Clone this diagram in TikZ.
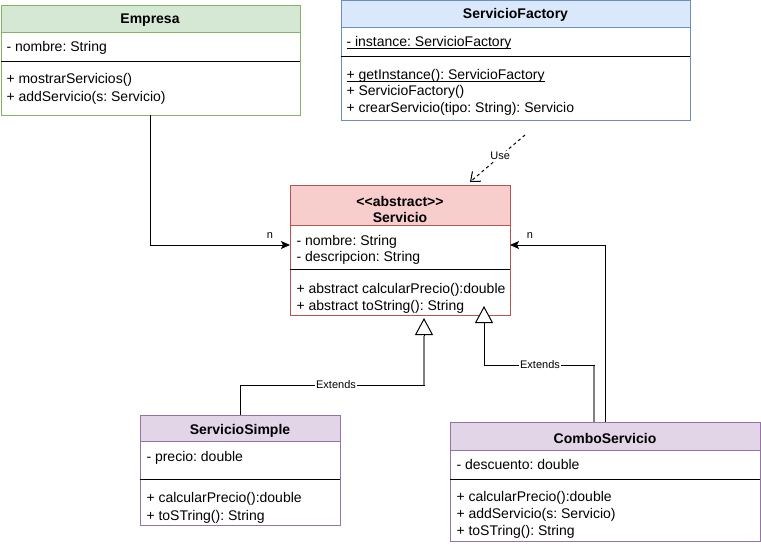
\documentclass[tikz,border=0pt]{standalone}
\usepackage{fontspec}
\setmainfont{Liberation Sans}
\usetikzlibrary{arrows.meta,calc}
\definecolor{grnF}{HTML}{D5E8D4}\definecolor{grnS}{HTML}{82B366}
\definecolor{bluF}{HTML}{DAE8FC}\definecolor{bluS}{HTML}{6C8EBF}
\definecolor{redF}{HTML}{F8CECC}\definecolor{redS}{HTML}{B85450}
\definecolor{purF}{HTML}{E1D5E7}\definecolor{purS}{HTML}{9673A6}
\frenchspacing
\newcommand\myul[1]{\setbox0\hbox{#1}\rlap{\vrule height -1.6pt depth 2.5pt width \wd0}\box0}
\begin{document}
\begin{tikzpicture}[x=1pt,y=-1pt,line width=1pt,
  clsbox/.style={draw, inner sep=0pt, outer sep=0pt, anchor=north west},
  txt/.style={anchor=west, inner sep=0pt, yshift=-1.5pt, font=\fontsize{14}{16}\selectfont},
  ttl/.style={inner sep=0pt, yshift=-1pt, font=\fontsize{14}{16}\selectfont\bfseries, align=center},
  lbl/.style={inner sep=1pt, fill=white, font=\fontsize{11}{13}\selectfont},
  assoc/.style={-{Stealth[length=9pt,width=8pt,inset=2pt]}},
  gen/.style={-{Triangle[open,length=17pt,width=18pt,fill=white]}},
  dep/.style={dash pattern=on 3pt off 3pt,-{Straight Barb[length=8pt,width=13pt]}}]
\useasboundingbox (0,0) rectangle (761,546);

% Empresa
\node[clsbox, draw=grnS, minimum width=299pt, minimum height=110pt] (emp) at (1,5) {};
\draw[fill=grnF, draw=grnS] (emp.north west) rectangle ($(emp.north east)+(0,27)$);
\draw ($(emp.north west)+(0,56)$) -- ($(emp.north east)+(0,56)$);
\node[ttl] (empt) at (150,19) {Empresa};
\node[txt] (empa) at (6,46) {- nombre: String};
\node[txt] (empm1) at (6,78) {+ mostrarServicios()};
\node[txt] (empm2) at (6,96) {+ addServicio(s: Servicio)};

% ServicioFactory
\node[clsbox, draw=bluS, minimum width=349pt, minimum height=120pt] (fac) at (341,0) {};
\draw[fill=bluF, draw=bluS] (fac.north west) rectangle ($(fac.north east)+(0,27)$);
\draw ($(fac.north west)+(0,56)$) -- ($(fac.north east)+(0,56)$);
\node[ttl] (fact) at (515.5,14) {ServicioFactory};
\node[txt] (faca) at (346,41) {\myul{- instance: ServicioFactory}};
\node[txt] (facm1) at (346,74) {\myul{+ getInstance(): ServicioFactory}};
\node[txt] (facm2) at (346,90) {+ ServicioFactory()};
\node[txt] (facm3) at (346,107) {+ crearServicio(tipo: String): Servicio};

% Servicio
\node[clsbox, draw=redS, minimum width=220pt, minimum height=130pt] (serv) at (290,185) {};
\draw[fill=redF, draw=redS] (serv.north west) rectangle ($(serv.north east)+(0,40)$);
\draw ($(serv.north west)+(0,84)$) -- ($(serv.north east)+(0,84)$);
\node[ttl] (servt1) at (400,200) {<{}<abstract>{}>};
\node[ttl] (servt2) at (400,216) {Servicio};
\node[txt] (serva1) at (296,240) {- nombre: String};
\node[txt] (serva2) at (296,256) {- descripcion: String};
\node[txt] (servm1) at (296,288) {+ abstract calcularPrecio():double};
\node[txt] (servm2) at (296,305) {+ abstract toString(): String};

% ServicioSimple
\node[clsbox, draw=purS, minimum width=200pt, minimum height=110pt] (simp) at (140,415) {};
\draw[fill=purF, draw=purS] (simp.north west) rectangle ($(simp.north east)+(0,26)$);
\draw ($(simp.north west)+(0,64)$) -- ($(simp.north east)+(0,64)$);
\node[ttl] (simpt) at (240,430) {ServicioSimple};
\node[txt] (simpa) at (146,456) {- precio: double};
\node[txt] (simpm1) at (146,497) {+ calcularPrecio():double};
\node[txt] (simpm2) at (146,515) {+ toSTring(): String};

% ComboServicio
\node[clsbox, draw=purS, minimum width=310pt, minimum height=119pt] (comb) at (450,422) {};
\draw[fill=purF, draw=purS] (comb.north west) rectangle ($(comb.north east)+(0,28)$);
\draw ($(comb.north west)+(0,57)$) -- ($(comb.north east)+(0,57)$);
\node[ttl] (combt) at (605,437) {ComboServicio};
\node[txt] (comba) at (456,463) {- descuento: double};
\node[txt] (combm1) at (456,496) {+ calcularPrecio():double};
\node[txt] (combm2) at (456,513) {+ addServicio(s: Servicio)};
\node[txt] (combm3) at (456,530) {+ toSTring(): String};

% Associations
\draw[assoc] (emp.south) |- ($(serv.west)+(0,-5)$);
\node[lbl, fill=none] (n1) at (270,236) {n};
\draw[assoc] (comb.north) |- ($(serv.east)+(0,-5)$);
\node[lbl, fill=none] (n2) at (530,236) {n};

% Use dependency
\coordinate (u1) at (525,135);
\coordinate (u2) at (470,182);
\draw[dep] (u1) -- (u2) node[lbl, pos=0.45] (use) {Use};

% Generalizations
\coordinate (t1) at (424,318);
\coordinate (t2) at (484,306);
\draw[gen] (simp.north) -- ++(0,-30) -| (t1);
\draw[gray, line width=1.6pt] (424,384.5) -- (424,336);
\node[lbl] (ext1) at (336,385) {Extends};
\draw[gen] ($(comb.north)+(-11,0)$) -- ++(0,-57) -| (t2);
\draw[gray, line width=1.6pt] (594,422) -- (594,365.5);
\node[lbl] (ext2) at (540,365) {Extends};
\end{tikzpicture}
\end{document}
